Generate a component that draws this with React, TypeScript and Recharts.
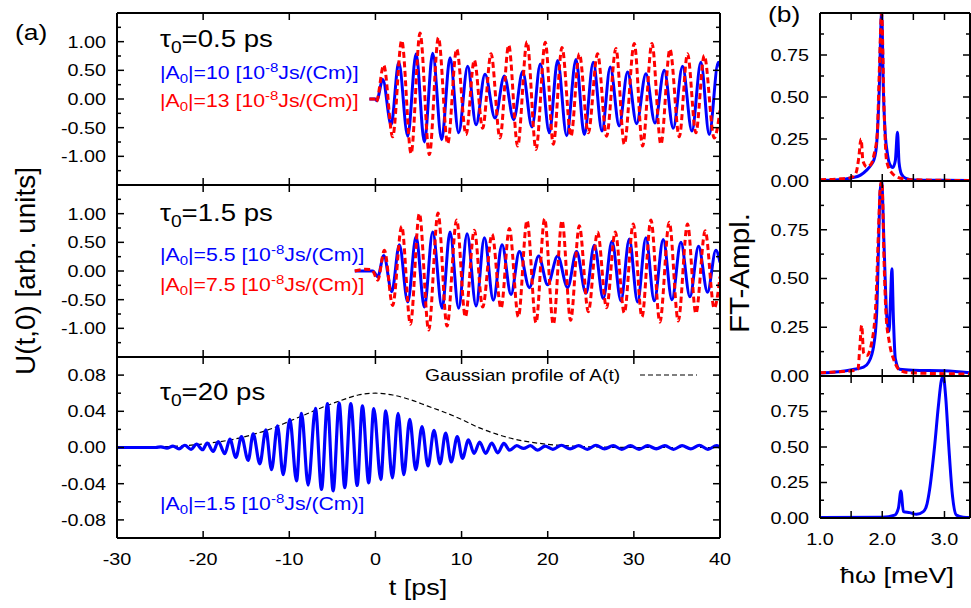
import React from "react";
import { Line, LineChart, XAxis, YAxis } from "recharts";

type Pt = [number, number];

// (a) U(t,0) vs t [ps] -- extrema
const tau05Blue: Pt[] = [
  [-0.7, 0], [0, 0], [0.15, -0.03], [0.85, 0.34], [1.82, -0.45], [2.71, 0.64], [3.75, -0.65], [4.72, 0.79],
  [5.68, -0.75], [6.65, 0.8], [7.69, -0.71], [8.66, 0.72], [9.66, -0.59], [10.71, 0.57], [11.68, -0.45],
  [12.72, 0.43], [13.88, -0.33], [14.96, 0.4], [16.05, -0.36], [17.09, 0.48], [18.17, -0.49], [19.14, 0.61],
  [20.19, -0.59], [21.15, 0.67], [22.2, -0.64], [23.28, 0.69], [24.25, -0.62], [25.29, 0.64], [26.3, -0.56],
  [27.26, 0.56], [28.3, -0.47], [29.27, 0.47], [30.32, -0.43], [31.4, 0.44], [32.45, -0.42], [33.53, 0.5],
  [34.57, -0.51], [35.65, 0.57], [36.74, -0.56], [37.78, 0.64], [38.75, -0.62], [39.8, 0.64], [40, 0.55],
];
const tau05Red: Pt[] = [
  [-0.7, 0], [0, 0], [0.1, -0.05], [0.97, 0.59], [2.0, -0.66], [3.05, 1.02], [4.14, -0.95], [5.18, 1.15],
  [6.26, -0.97], [7.31, 1.07], [8.39, -0.78], [9.43, 0.87], [10.52, -0.62], [11.48, 0.68], [12.45, -0.51],
  [13.42, 0.79], [14.46, -0.68], [15.47, 0.94], [16.51, -0.82], [17.6, 1.0], [18.64, -0.88], [19.72, 0.99],
  [20.65, -0.79], [21.66, 0.9], [22.7, -0.65], [23.67, 0.79], [24.71, -0.59], [25.79, 0.79], [26.83, -0.65],
  [27.92, 0.88], [28.89, -0.79], [30.05, 0.97], [31.01, -0.82], [32.1, 0.97], [33.14, -0.79], [34.19, 0.87],
  [35.27, -0.66], [36.23, 0.79], [37.2, -0.59], [38.17, 0.76], [39.33, -0.68], [40, -0.2],
];
const tau15Blue: Pt[] = [
  [-2.4, 0], [-0.3, 0], [0.27, -0.1], [0.97, 0.27], [1.9, -0.36], [2.78, 0.46], [3.75, -0.54], [4.72, 0.6],
  [5.68, -0.63], [6.65, 0.68], [7.74, -0.65], [8.66, 0.68], [9.66, -0.65], [10.64, 0.65], [11.68, -0.61],
  [12.65, 0.58], [13.69, -0.51], [14.7, 0.46], [15.74, -0.41], [16.71, 0.34], [17.87, -0.29], [18.95, 0.26],
  [19.99, -0.24], [21.15, 0.26], [22.31, -0.29], [23.35, 0.34], [24.44, -0.39], [25.41, 0.45], [26.45, -0.48],
  [27.46, 0.52], [28.5, -0.52], [29.47, 0.56], [30.43, -0.54], [31.4, 0.58], [32.37, -0.52], [33.41, 0.55],
  [34.42, -0.5], [35.46, 0.5], [36.51, -0.45], [37.51, 0.43], [38.55, -0.37], [39.52, 0.36], [40, 0.15],
];
const tau15Red: Pt[] = [
  [-2.4, 0], [-1.2, 0.03], [-0.4, 0.02], [0.27, -0.16], [1.04, 0.36], [2.0, -0.6], [3.05, 0.78], [4.06, -0.93],
  [5.1, 1.0], [6.18, -1.03], [7.27, 1.01], [8.31, -0.96], [9.43, 0.89], [10.44, -0.8], [11.48, 0.71],
  [12.45, -0.63], [13.54, 0.64], [14.58, -0.65], [15.55, 0.74], [16.59, -0.8], [17.6, 0.88], [18.64, -0.9],
  [19.64, 0.91], [20.65, -0.93], [21.66, 0.88], [22.66, -0.86], [23.67, 0.79], [24.71, -0.71], [25.79, 0.68],
  [26.83, -0.64], [27.84, 0.68], [28.89, -0.73], [29.93, 0.82], [30.94, -0.8], [31.98, 0.89], [33.02, -0.89],
  [34.11, 0.85], [35.15, -0.87], [36.23, 0.82], [37.2, -0.74], [38.28, 0.7], [39.33, -0.65], [40, -0.1],
];
const tau20Blue: Pt[] = [
  [-30, 0], [-25.5, 0], [-24.9, 0.0008], [-24.2, -0.0008], [-23.5, 0.0015], [-22.8, -0.0015], [-22.12, 0.0025],
  [-21.4, -0.002], [-20.77, 0.0037], [-20.07, -0.0025], [-19.53, 0.0048], [-18.83, -0.0044], [-18.25, 0.0066],
  [-17.48, -0.0069], [-16.9, 0.0092], [-16.2, -0.011], [-15.55, 0.012], [-14.77, -0.0143], [-14.19, 0.015],
  [-13.42, -0.018], [-12.72, 0.0194], [-12.06, -0.0245], [-11.37, 0.0238], [-10.71, -0.03], [-9.94, 0.031],
  [-9.16, -0.037], [-8.58, 0.0377], [-7.81, -0.0416], [-6.96, 0.0432], [-6.26, -0.0464], [-5.57, 0.0486],
  [-4.91, -0.048], [-4.21, 0.049], [-3.56, -0.0445], [-2.86, 0.0486], [-2.12, -0.042], [-1.51, 0.046],
  [-0.78, -0.039], [-0.19, 0.043], [0.62, -0.0354], [1.2, 0.0405], [1.97, -0.0336], [2.63, 0.0377],
  [3.29, -0.03], [3.98, 0.031], [4.68, -0.0245], [5.41, 0.0232], [6.1, -0.0204], [6.8, 0.019], [7.5, -0.018],
  [8.15, 0.016], [8.8, -0.016], [9.5, 0.012], [10.1, -0.012], [10.8, 0.0085], [11.45, -0.0065], [12.1, 0.006],
  [12.8, -0.0065], [13.5, 0.005], [14.2, -0.006], [14.9, 0.0045], [15.6, -0.003], [16.4, 0.002], [17.2, -0.001],
  [18.0, 0.002], [18.8, -0.003], [19.7, 0.0015], [20.6, -0.002], [21.6, 0.0025], [22.6, -0.0015], [23.6, 0.002],
  [24.6, -0.002], [25.6, 0.0025], [26.6, -0.0015], [27.6, 0.002], [28.6, -0.002], [29.6, 0.002], [30.6, -0.002],
  [31.6, 0.002], [32.6, -0.0015], [33.6, 0.002], [34.6, -0.002], [35.6, 0.002], [36.6, -0.0015], [37.6, 0.0025],
  [38.6, -0.002], [39.6, 0.002], [40, 0],
];
const gaussProfile: Pt[] = [
  [-30, 0], [-26, 0.0005], [-24, 0.001], [-22, 0.002], [-20, 0.004], [-18, 0.0065], [-16, 0.01], [-14, 0.015],
  [-12, 0.021], [-10, 0.029], [-8, 0.037], [-6, 0.045], [-4, 0.052], [-2, 0.058], [0, 0.06], [2, 0.058],
  [4, 0.053], [6, 0.046], [8, 0.039], [10, 0.031], [12, 0.022], [14, 0.015], [16, 0.0095], [18, 0.006],
  [20, 0.0035], [22, 0.002], [24, 0.001], [26, 0.0005], [30, 0], [40, 0],
];

// (b) FT amplitude vs hbar*omega [meV]
const ft05Blue: Pt[] = [
  [1.0, 0.004], [1.3, 0.008], [1.5, 0.018], [1.65, 0.035], [1.75, 0.065], [1.82, 0.095], [1.87, 0.13],
  [1.91, 0.22], [1.95, 0.52], [1.99, 1.0], [2.02, 0.52], [2.05, 0.27], [2.08, 0.17], [2.12, 0.1], [2.17, 0.08],
  [2.21, 0.12], [2.245, 0.29], [2.27, 0.11], [2.31, 0.04], [2.38, 0.015], [2.5, 0.006], [3.0, 0.004], [3.41, 0.003],
];
const ft05Red: Pt[] = [
  [1.0, 0.008], [1.3, 0.012], [1.5, 0.02], [1.58, 0.05], [1.62, 0.13], [1.66, 0.25], [1.69, 0.12], [1.75, 0.085],
  [1.82, 0.1], [1.87, 0.16], [1.92, 0.28], [1.95, 0.62], [1.99, 1.0], [2.03, 0.42], [2.07, 0.12], [2.15, 0.05],
  [2.28, 0.018], [2.45, 0.008], [3.0, 0.004], [3.41, 0.003],
];
const ft15Blue: Pt[] = [
  [1.0, 0.015], [1.3, 0.022], [1.53, 0.033], [1.7, 0.045], [1.78, 0.07], [1.86, 0.15], [1.91, 0.32],
  [1.94, 0.66], [1.965, 0.94], [1.99, 1.0], [2.03, 0.66], [2.07, 0.32], [2.11, 0.23], [2.135, 0.41],
  [2.155, 0.55], [2.18, 0.29], [2.21, 0.09], [2.28, 0.035], [2.5, 0.03], [3.0, 0.027], [3.41, 0.017],
];
const ft15Red: Pt[] = [
  [1.0, 0.017], [1.3, 0.022], [1.55, 0.028], [1.61, 0.035], [1.64, 0.15], [1.67, 0.26], [1.7, 0.12],
  [1.75, 0.105], [1.83, 0.17], [1.9, 0.39], [1.94, 0.75], [1.97, 0.97], [1.995, 1.0], [2.03, 0.58],
  [2.06, 0.32], [2.11, 0.18], [2.19, 0.08], [2.28, 0.03], [2.44, 0.017], [3.0, 0.012], [3.41, 0.01],
];
const ft20Blue: Pt[] = [
  [1.0, 0.004], [2.0, 0.005], [2.2, 0.02], [2.26, 0.07], [2.3, 0.19], [2.34, 0.045], [2.44, 0.038],
  [2.55, 0.026], [2.66, 0.045], [2.72, 0.1], [2.76, 0.197], [2.84, 0.5], [2.9, 0.78], [2.95, 0.97],
  [2.98, 1.0], [3.02, 0.85], [3.07, 0.5], [3.13, 0.15], [3.19, 0.021], [3.3, 0.005], [3.41, 0.003],
];

// ticks
const tTicks = [-30, -20, -10, 0, 10, 20, 30, 40];
const uTicks = [-1.25, -1, -0.75, -0.5, -0.25, 0, 0.25, 0.5, 0.75, 1, 1.25];
const uLabels = [-1, -0.5, 0, 0.5, 1];
const smallTicks = [-0.08, -0.06, -0.04, -0.02, 0, 0.02, 0.04, 0.06, 0.08];
const smallLabels = [-0.08, -0.04, 0, 0.04, 0.08];
const wTicks = [1, 1.5, 2, 2.5, 3];
const wLabels = [1, 2, 3];
const ftTicks = [0, 0.125, 0.25, 0.375, 0.5, 0.625, 0.75, 0.875];
const ftLabels = [0, 0.25, 0.5, 0.75];

const BLUE = "#0000ff";
const RED = "#ff0000";
const FONT = "'Liberation Sans', Arial, Helvetica, sans-serif";
const SX = 1.2;

function SText({ x, y, size, anchor = "start", fill = "#000", dy, children }: any) {
  return (
    <g transform={`translate(${x},${y}) scale(${SX},1)`}>
      <text x={0} y={0} dy={dy} fontSize={size} textAnchor={anchor} fill={fill} fontFamily={FONT}>
        {children}
      </text>
    </g>
  );
}

type Side = "left" | "right" | "top" | "bottom";

function tickFor(side: Side, major: number[], labels: number[], fmt: (v: number) => string, gap = 11, base = 27) {
  return (p: any) => {
    const { x, y } = p;
    const v = p.payload.value as number;
    const isMajor = major.some((m) => Math.abs(m - v) < 1e-9);
    const has = labels.some((m) => Math.abs(m - v) < 1e-9);
    const len = isMajor ? 7 : 4;
    let seg = { x1: x, y1: y, x2: x, y2: y };
    if (side === "left") seg = { x1: x, y1: y, x2: x + len, y2: y };
    if (side === "right") seg = { x1: x, y1: y, x2: x - len, y2: y };
    if (side === "top") seg = { x1: x, y1: y, x2: x, y2: y + len };
    if (side === "bottom") seg = { x1: x, y1: y, x2: x, y2: y - len };
    return (
      <g>
        <line {...seg} stroke="#000" strokeWidth={1.5} />
        {has && side === "left" && (
          <SText x={x - gap} y={y} dy="0.36em" size={16.5} anchor="end">{fmt(v)}</SText>
        )}
        {has && side === "bottom" && (
          <SText x={x} y={y + base} size={16.5} anchor="middle">{fmt(v)}</SText>
        )}
      </g>
    );
  };
}

interface Series {
  pts: Pt[];
  color: string;
  dash?: string;
  width?: number;
}

interface PanelProps {
  left: number;
  top: number;
  width: number;
  height: number;
  xDomain: [number, number];
  xTicks: number[];
  xLabels: number[];
  xFmt: (v: number) => string;
  yDomain: [number, number];
  yTicks: number[];
  yMajor: number[];
  yLabels: number[];
  series: Series[];
}

// margins around each plot box; axes get 1px so recharts still draws them
const ML = 70;
const MR = 10;
const MT = 12;
const MB = 45;

function Panel(props: PanelProps) {
  const { left, top, width, height, xDomain, xTicks, xLabels, xFmt, yDomain, yTicks, yMajor, yLabels, series } = props;
  const yFmt = (v: number) => v.toFixed(2);
  const axis = { stroke: "#000", strokeWidth: 2 };
  return (
    <div style={{ position: "absolute", left: left - ML - 1, top: top - MT - 1 }}>
      <LineChart width={width + ML + MR + 2} height={height + MT + MB + 2}
        margin={{ left: ML, right: MR, top: MT, bottom: MB }}>
        <XAxis xAxisId="b" dataKey="x" type="number" domain={xDomain} ticks={xTicks} interval={0} allowDataOverflow
          height={1} tickSize={0} tickMargin={0} tickLine={false} axisLine={axis}
          tick={tickFor("bottom", xTicks, xLabels, xFmt)} />
        <XAxis xAxisId="t" orientation="top" dataKey="x" type="number" domain={xDomain} ticks={xTicks} interval={0}
          allowDataOverflow height={1} tickSize={0} tickMargin={0} tickLine={false} axisLine={axis}
          tick={tickFor("top", xTicks, [], xFmt)} />
        <YAxis yAxisId="l" type="number" domain={yDomain} ticks={yTicks} interval={0} allowDataOverflow width={1}
          tickSize={0} tickMargin={0} tickLine={false} axisLine={axis}
          tick={tickFor("left", yMajor, yLabels, yFmt)} />
        <YAxis yAxisId="r" orientation="right" type="number" domain={yDomain} ticks={yTicks} interval={0}
          allowDataOverflow width={1} tickSize={0} tickMargin={0} tickLine={false} axisLine={axis}
          tick={tickFor("right", yMajor, [], yFmt)} />
        {series.map((s, i) => (
          <Line key={i} xAxisId="b" yAxisId="l" data={s.pts.map(([x, y]) => ({ x, y }))} dataKey="y"
            type="monotone" stroke={s.color} strokeWidth={s.width ?? 3} strokeDasharray={s.dash}
            dot={false} activeDot={false} isAnimationActive={false} />
        ))}
      </LineChart>
    </div>
  );
}

const tFmt = (v: number) => String(v);
const wFmt = (v: number) => v.toFixed(1);
const redDash = "6 3.5";

function AmpLabel({ x, y, amp, color }: { x: number; y: number; amp: string; color: string }) {
  return (
    <SText x={x} y={y} size={17.7} fill={color}>
      |A<tspan dy={4} fontSize={12.5}>0</tspan>
      <tspan dy={-4}>|={amp} [10</tspan>
      <tspan dy={-7} fontSize={12.5}>-8</tspan>
      <tspan dy={7}>Js/(Cm)]</tspan>
    </SText>
  );
}

function TauLabel({ x, y, tau }: { x: number; y: number; tau: string }) {
  return (
    <SText x={x} y={y} size={23}>
      τ<tspan dy={6} fontSize={16}>0</tspan>
      <tspan dy={-6}>={tau} ps</tspan>
    </SText>
  );
}

export default function App() {
  const L = 117, R = 720;
  const RL = 820, RR = 970;
  return (
    <div style={{ position: "absolute", left: 0, top: 0, width: 971, height: 608, overflow: "hidden", background: "#fff" }}>
      <Panel left={L} top={13} width={R - L} height={172} xDomain={[-30, 40]} xTicks={tTicks} xLabels={[]} xFmt={tFmt}
        yDomain={[-1.5, 1.5]} yTicks={uTicks} yMajor={uLabels} yLabels={uLabels}
        series={[{ pts: tau05Blue, color: BLUE }, { pts: tau05Red, color: RED, dash: redDash }]} />
      <Panel left={L} top={185} width={R - L} height={172} xDomain={[-30, 40]} xTicks={tTicks} xLabels={[]} xFmt={tFmt}
        yDomain={[-1.5, 1.5]} yTicks={uTicks} yMajor={uLabels} yLabels={uLabels}
        series={[{ pts: tau15Blue, color: BLUE }, { pts: tau15Red, color: RED, dash: redDash }]} />
      <Panel left={L} top={357} width={R - L} height={181} xDomain={[-30, 40]} xTicks={tTicks} xLabels={tTicks} xFmt={tFmt}
        yDomain={[-0.1, 0.1]} yTicks={smallTicks} yMajor={smallLabels} yLabels={smallLabels}
        series={[{ pts: gaussProfile, color: "#000", dash: "5 3", width: 1.2 }, { pts: tau20Blue, color: BLUE, width: 3.2 }]} />

      <Panel left={RL} top={13} width={RR - RL} height={168} xDomain={[1, 3.41]} xTicks={wTicks} xLabels={[]} xFmt={wFmt}
        yDomain={[0, 1]} yTicks={ftTicks} yMajor={ftLabels} yLabels={ftLabels}
        series={[{ pts: ft05Blue, color: BLUE }, { pts: ft05Red, color: RED, dash: redDash }]} />
      <Panel left={RL} top={181} width={RR - RL} height={195} xDomain={[1, 3.41]} xTicks={wTicks} xLabels={[]} xFmt={wFmt}
        yDomain={[0, 1]} yTicks={ftTicks} yMajor={ftLabels} yLabels={ftLabels}
        series={[{ pts: ft15Blue, color: BLUE }, { pts: ft15Red, color: RED, dash: redDash }]} />
      <Panel left={RL} top={376} width={RR - RL} height={142} xDomain={[1, 3.41]} xTicks={wTicks} xLabels={wLabels} xFmt={wFmt}
        yDomain={[0, 1]} yTicks={ftTicks} yMajor={ftLabels} yLabels={ftLabels}
        series={[{ pts: ft20Blue, color: BLUE }]} />

      <svg width={971} height={608} style={{ position: "absolute", left: 0, top: 0, pointerEvents: "none" }}>
        <SText x={15} y={40} size={22}>(a)</SText>
        <SText x={768} y={22} size={22}>(b)</SText>

        <TauLabel x={160} y={47} tau="0.5" />
        <AmpLabel x={160} y={79} amp="10" color={BLUE} />
        <AmpLabel x={160} y={107} amp="13" color={RED} />

        <TauLabel x={160} y={221} tau="1.5" />
        <AmpLabel x={160} y={261} amp="5.5" color={BLUE} />
        <AmpLabel x={160} y={291} amp="7.5" color={RED} />

        <TauLabel x={160} y={400} tau="20" />
        <AmpLabel x={160} y={510} amp="1.5" color={BLUE} />

        <SText x={425} y={381} size={16}>Gaussian profile of A(t)</SText>
        <line x1={640} x2={697} y1={375} y2={375} stroke="#000" strokeWidth={1.2} strokeDasharray="5 3" />

        <SText x={418} y={595} size={22.5} anchor="middle">t [ps]</SText>
        <SText x={897} y={583} size={22.5} anchor="middle">ħω [meV]</SText>

        <g transform={`translate(35,271) scale(${SX},1) rotate(-90)`}>
          <text x={0} y={0} fontSize={23} textAnchor="middle" fontFamily={FONT} textLength={208} lengthAdjust="spacingAndGlyphs">
            U(t,0) [arb. units]
          </text>
        </g>
        <g transform={`translate(749,273) scale(${SX},1) rotate(-90)`}>
          <text x={0} y={0} fontSize={23} textAnchor="middle" fontFamily={FONT} textLength={120} lengthAdjust="spacingAndGlyphs">
            FT-Ampl.
          </text>
        </g>
      </svg>
    </div>
  );
}
